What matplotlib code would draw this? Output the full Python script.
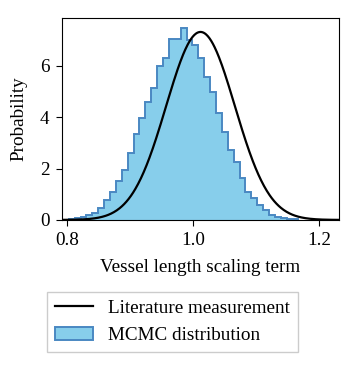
import numpy as np
import matplotlib
matplotlib.use("Agg")
import matplotlib.pyplot as plt
from matplotlib.patches import Patch
from matplotlib.lines import Line2D

plt.rcParams['font.family'] = ['Liberation Serif', 'DejaVu Serif']
plt.rcParams['font.size'] = 13.8
plt.rcParams['xtick.major.size'] = 4.5
plt.rcParams['ytick.major.size'] = 4.5
plt.rcParams['xtick.major.pad'] = 4.5
plt.rcParams['ytick.major.pad'] = 4.5

# MCMC histogram (density)
bin_start = 0.8029
bin_width = 0.00935
heights = [0.03, 0.06, 0.12, 0.19, 0.28, 0.48, 0.77, 1.10, 1.53, 1.95,
           2.59, 3.35, 3.98, 4.58, 5.15, 5.99, 6.29, 7.03, 7.03, 7.48,
           7.00, 6.81, 6.29, 5.58, 4.97, 4.15, 3.44, 2.72, 2.27, 1.62,
           1.10, 0.84, 0.58, 0.39, 0.19, 0.13, 0.08, 0.04, 0.02]
edges = bin_start + bin_width * np.arange(len(heights) + 1)

# literature measurement: normal distribution
lit_mean = 1.012
lit_sd = 0.0545

x = np.linspace(0.79, 1.235, 500)
pdf = np.exp(-0.5 * ((x - lit_mean) / lit_sd) ** 2) / (lit_sd * np.sqrt(2 * np.pi))

edge_col = '#4a88c2'

fig = plt.figure(figsize=(3.46, 3.69), dpi=100)
ax = fig.add_axes([0.179, 0.404, 0.801, 0.547])

ax.stairs(heights, edges, fill=True, color='skyblue', linewidth=0)
ax.stairs(heights, edges, fill=False, color=edge_col, linewidth=1.4, baseline=0)
ax.plot(x, pdf, color='black', linewidth=1.6)

ax.set_xlim(0.792, 1.232)
ax.set_ylim(0, 7.86)
ax.set_xticks([0.8, 1.0, 1.2])
ax.set_yticks([0, 2, 4, 6])
ax.set_xlabel('Vessel length scaling term', labelpad=7)
ax.set_ylabel('Probability', labelpad=9)

handles = [Line2D([], [], color='black', linewidth=1.6),
           Patch(facecolor='skyblue', edgecolor=edge_col, linewidth=1.4)]
fig.legend(handles, ['Literature measurement', 'MCMC distribution'],
           loc='upper center', bbox_to_anchor=(0.4986, 0.235),
           fancybox=False, edgecolor='#cccccc', framealpha=1)

fig.savefig('out.png', dpi=100)
